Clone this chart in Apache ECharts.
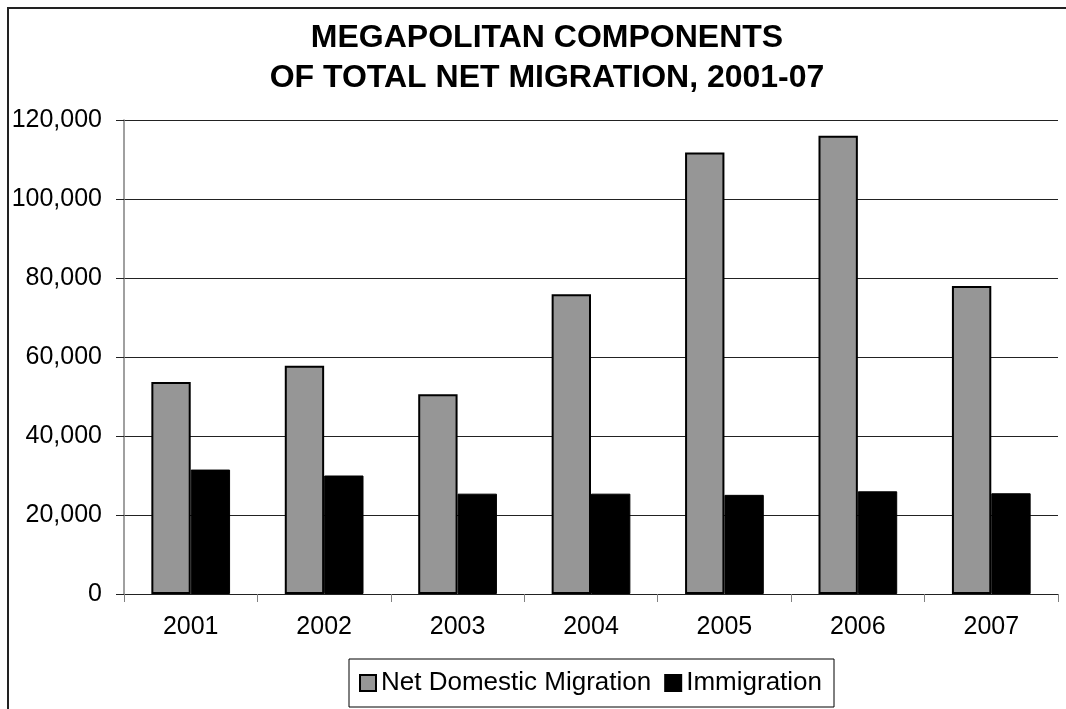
<!DOCTYPE html>
<html>
<head>
<meta charset="utf-8">
<title>Megapolitan Components of Total Net Migration, 2001-07</title>
<script src="https://cdn.jsdelivr.net/npm/echarts@6/dist/echarts.min.js"></script>
<style>
  html, body { margin: 0; padding: 0; background: #ffffff; }
  #chart { width: 1066px; height: 709px; }
</style>
</head>
<body>
<div id="chart"></div>
<script>
// Years on the category axis
const years = ['2001', '2002', '2003', '2004', '2005', '2006', '2007'];

// Net domestic migration by year
const netDomestic = [53700, 57800, 50600, 75900, 111800, 116000, 78000];

// Immigration by year
const immigration = [31500, 30000, 25400, 25400, 25100, 26000, 25500];

// Value axis range
const yMin = 0;
const yMax = 120000;
const yStep = 20000;

const FONT = '"Liberation Sans", Arial, sans-serif';

const chart = echarts.init(document.getElementById('chart'), null, { renderer: 'canvas' });

chart.setOption({
  animation: false,
  backgroundColor: '#ffffff',
  textStyle: { fontFamily: FONT, color: '#000' },
  graphic: [{
    type: 'rect',
    silent: true,
    shape: { x: 8, y: 8, width: 1200, height: 900 },
    style: { fill: 'none', stroke: '#222', lineWidth: 2 }
  }],
  title: {
    text: 'MEGAPOLITAN COMPONENTS\nOF TOTAL NET MIGRATION, 2001-07',
    left: 542,
    top: 13,
    textAlign: 'center',
    textStyle: {
      fontFamily: FONT,
      fontSize: 32,
      fontWeight: 'bold',
      lineHeight: 40,
      color: '#000'
    }
  },
  grid: {
    left: 124,
    top: 120,
    right: 8,
    bottom: 115,
    containLabel: false
  },
  legend: {
    left: 349,
    top: 659,
    padding: [11, 12, 11, 10],
    borderColor: '#000',
    borderWidth: 1,
    itemWidth: 16,
    itemHeight: 16,
    itemGap: 13,
    icon: 'rect',
    textStyle: { fontFamily: FONT, fontSize: 26, color: '#000' },
    data: ['Net Domestic Migration', 'Immigration']
  },
  xAxis: {
    type: 'category',
    data: years,
    boundaryGap: true,
    axisLine: { show: true, lineStyle: { color: '#222', width: 1 } },
    axisTick: { show: true, length: 8, lineStyle: { color: '#808080', width: 1 } },
    axisLabel: { margin: 21, fontFamily: FONT, fontSize: 25, color: '#000' },
    splitLine: { show: false }
  },
  yAxis: {
    type: 'value',
    min: yMin,
    max: yMax,
    interval: yStep,
    axisLine: { show: true, lineStyle: { color: '#808080', width: 1.5 } },
    axisTick: { show: true, length: 8, lineStyle: { color: '#222', width: 1 } },
    axisLabel: {
      margin: 22,
      fontFamily: FONT,
      fontSize: 25,
      color: '#000',
      formatter: v => v.toLocaleString('en-US')
    },
    splitLine: { show: true, lineStyle: { color: '#222', width: 1 } }
  },
  series: [
    {
      name: 'Net Domestic Migration',
      type: 'bar',
      data: netDomestic,
      barGap: '0%',
      barCategoryGap: '41%',
      itemStyle: { color: '#969696', borderColor: '#000', borderWidth: 2 }
    },
    {
      name: 'Immigration',
      type: 'bar',
      data: immigration,
      itemStyle: { color: '#000', borderColor: '#000', borderWidth: 1 }
    }
  ]
});
</script>
</body>
</html>
